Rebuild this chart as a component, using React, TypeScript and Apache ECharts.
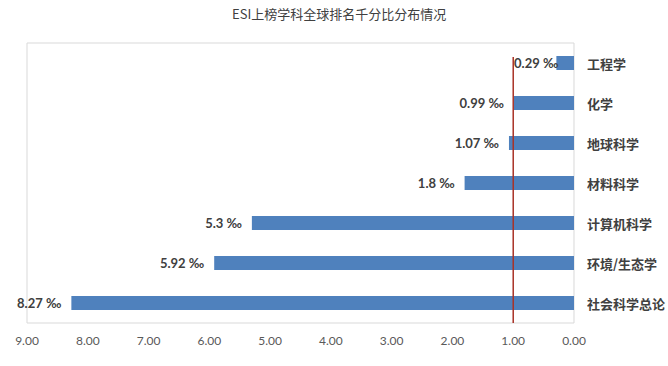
import React, { useEffect, useRef } from "react";
import * as echarts from "echarts";

const categories = ["工程学", "化学", "地球科学", "材料科学", "计算机科学", "环境/生态学", "社会科学总论"];
const values = [0.29, 0.99, 1.07, 1.8, 5.3, 5.92, 8.27];
const refValue = 1;
const refLineSpan = [0, 0.95];
const titleText = "ESI上榜学科全球排名千分比分布情况";

const FONT = "Lato, 'Noto Sans CJK SC', sans-serif";

export default function App() {
  const ref = useRef<HTMLDivElement>(null);
  useEffect(() => {
    if (!ref.current) return;
    const chart = echarts.init(ref.current, null, { renderer: "svg" });
    chart.setOption({
      animation: false,
      backgroundColor: "#ffffff",
      title: {
        text: titleText,
        left: 227,
        top: 2,
        textStyle: { fontSize: 13, fontWeight: "normal", color: "#404040", fontFamily: "'Noto Sans CJK SC', sans-serif" },
      },
      grid: {
        left: 27,
        right: 89,
        top: 43,
        bottom: 43,
        show: true,
        borderColor: "#d9d9d9",
        borderWidth: 1,
        backgroundColor: "transparent",
      },
      xAxis: {
        type: "value",
        inverse: true,
        min: 0,
        max: 9,
        interval: 1,
        axisLine: { show: false },
        axisTick: { show: false },
        splitLine: { show: false },
        axisLabel: {
          margin: 11,
          color: "#595959",
          fontSize: 12,
          fontFamily: FONT,
          formatter: (v: number) => v.toFixed(2),
        },
      },
      yAxis: [
        {
          type: "category",
          data: categories,
          inverse: true,
          position: "right",
          axisLine: { show: false },
          axisTick: { show: false },
          axisLabel: {
            margin: 13,
            color: "#404040",
            fontSize: 13,
            fontWeight: "bold",
            fontFamily: "'Noto Sans CJK SC', sans-serif",
          },
        },
        {
          type: "value",
          min: 0,
          max: 1,
          show: false,
        },
      ],
      series: [
        {
          type: "bar",
          data: values.map((v, i) =>
            i === 0 ? { value: v, label: { distance: -2 } } : v
          ),
          barWidth: 14,
          itemStyle: { color: "#4f81bd" },
          label: {
            show: true,
            position: "left",
            distance: 10,
            color: "#404040",
            fontSize: 13,
            fontWeight: "bold",
            fontFamily: FONT,
            formatter: (p: any) => `${p.value} ‰`,
          },
        },
        {
          type: "line",
          yAxisIndex: 1,
          silent: true,
          symbol: "none",
          data: refLineSpan.map((y) => [refValue, y]),
          lineStyle: { color: "#a93226", width: 1.5 },
          z: 5,
        },
      ],
    });
    return () => chart.dispose();
  }, []);
  return <div ref={ref} style={{ position: "absolute", left: 0, top: 0, width: 668, height: 366 }} />;
}
